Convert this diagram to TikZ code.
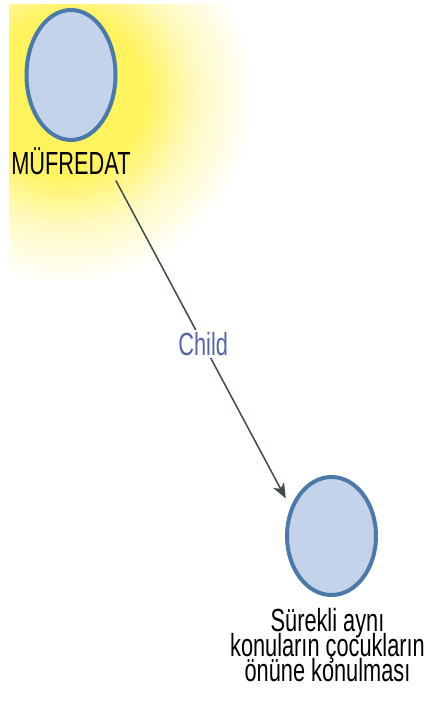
\documentclass[tikz,border=0pt]{standalone}
\usepackage{fontspec}
\usepackage{tikz}
\usetikzlibrary{positioning,arrows.meta,shapes.geometric}
\newfontfamily\narrowfont[FakeStretch=0.68]{Liberation Sans}
\definecolor{glowA}{HTML}{FFF35E}
\definecolor{glowB}{HTML}{FFFAC0}
\definecolor{bubbleFill}{HTML}{C4D2EA}
\definecolor{bubbleLine}{HTML}{4B79A9}
\definecolor{edgeGray}{HTML}{3D4B4B}
\definecolor{linkBlue}{HTML}{5565A8}
\pgfdeclareradialshading{yellowglow}{\pgfpoint{0bp}{0bp}}{%
  color(0bp)=(glowA); color(8bp)=(glowA); color(13bp)=(glowB);
  color(19bp)=(white); color(25bp)=(white); color(50bp)=(white)}
\newcommand\mapfont{\narrowfont\fontsize{32pt}{25pt}\selectfont\lineskiplimit=-30pt}

\begin{document}
\begin{tikzpicture}[
    x=1pt, y=-1pt,
    bubbleStyle/.style={
        ellipse, draw=bubbleLine, fill=bubbleFill, line width=4pt,
        inner sep=0pt, minimum width=89pt
    },
    textStyle/.style={font=\mapfont, inner sep=0pt, align=center, text=black},
    edgeStyle/.style={-{Stealth[length=15pt,width=12pt,inset=4pt]}, line width=1.5pt, draw=edgeGray},
    edgeLabel/.style={font=\mapfont, text=linkBlue, fill=white, inner sep=2pt}
]
    \useasboundingbox (0,0) rectangle (427,711);

    % Glow
    \begin{scope}
        \clip (9,5) rectangle (427,711);
        \shade[shading=yellowglow] (65,95) circle (250);
    \end{scope}

    % Nodes
    \node[bubbleStyle, minimum height=130pt] (mufredat) at (71,75) {};
    \node[textStyle, below=6pt of mufredat] (mufredatLabel) {MÜFREDAT};

    \node[bubbleStyle, minimum height=118pt] (child) at (331.5,536) {};
    \node[textStyle, below=11pt of child, xshift=-4pt] (childLabel) {Sürekli aynı\\konuların çocukların\\önüne konulması};

    % Arrow
    \draw[edgeStyle, shorten >=10pt] ([xshift=-15pt,yshift=-5pt]mufredatLabel.south east)
        -- node[edgeLabel] (childText) {Child} (child.145);
\end{tikzpicture}
\end{document}
